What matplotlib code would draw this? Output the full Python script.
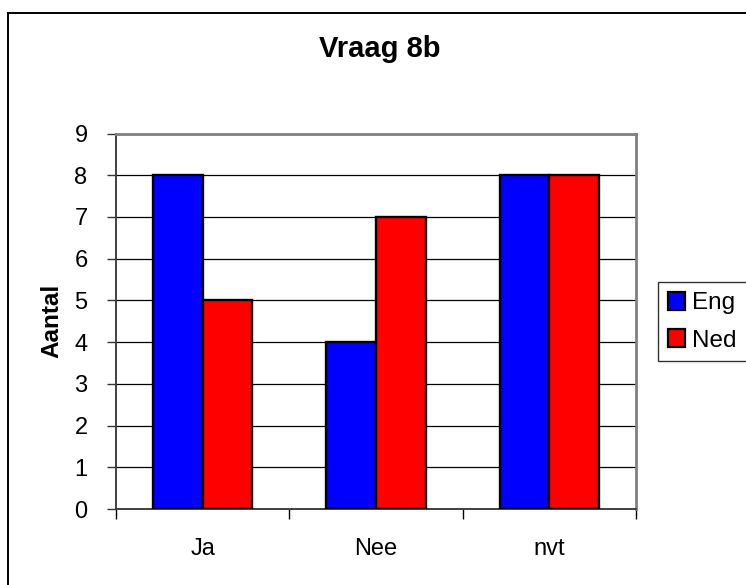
import matplotlib
matplotlib.use("Agg")
import matplotlib.pyplot as plt
from matplotlib.patches import Rectangle
import numpy as np

categories = ["Ja", "Nee", "nvt"]
eng_values = [8, 4, 8]
ned_values = [5, 7, 8]
series_names = ["Eng", "Ned"]
y_ticks = [0, 1, 2, 3, 4, 5, 6, 7, 8, 9]

plt.rcParams["font.family"] = ["Liberation Sans", "DejaVu Sans"]

W, H = 746, 585
fig = plt.figure(figsize=(W / 100, H / 100), dpi=100)

# outer chart frame (right and bottom edges run past the canvas)
fig.patches.append(Rectangle((8 / W, -0.05), 1.1, 1 - 13 / H + 0.05,
                             transform=fig.transFigure, fill=False,
                             edgecolor="black", linewidth=1.4))

ax = fig.add_axes([116 / W, 1 - 509 / H, (636 - 116) / W, (509 - 133.5) / H])

x = np.arange(len(categories))
w = 1 / 3.5
ax.bar(x - w / 2, eng_values, width=w, color="#0000FF", edgecolor="black",
       linewidth=1.7, zorder=3, label=series_names[0])
ax.bar(x + w / 2, ned_values, width=w, color="#FF0000", edgecolor="black",
       linewidth=1.7, zorder=3, label=series_names[1])

ax.set_xlim(-0.5, len(categories) - 0.5)
ax.set_ylim(0, 9)
ax.set_yticks(y_ticks)
ax.yaxis.grid(True, color="black", linewidth=0.9, zorder=0)
ax.set_axisbelow(True)

# category boundary ticks on the x axis, labels centred between them
ax.set_xticks(np.arange(len(categories) + 1) - 0.5)
ax.set_xticklabels([])
ax.set_xticks(x, minor=True)
ax.set_xticklabels(categories, minor=True)
ax.tick_params(axis="x", which="major", direction="out", length=7, width=1, color="black")
ax.tick_params(axis="x", which="minor", length=0, pad=21, labelsize=17)
ax.tick_params(axis="y", direction="out", length=6.5, width=1, color="#333333",
               labelsize=17, pad=14)

for side in ["top", "right"]:
    ax.spines[side].set_color("#808080")
    ax.spines[side].set_linewidth(2)
ax.spines["left"].set_color("#404040")
ax.spines["left"].set_linewidth(1.4)
ax.spines["bottom"].set_color("#404040")
ax.spines["bottom"].set_linewidth(1.4)

fig.text(52 / W, 1 - 321 / H, "Aantal", rotation=90, ha="center", va="center",
         fontsize=17.5, fontweight="bold")

fig.text(380 / W, 1 - 57 / H, "Vraag 8b", ha="center", va="baseline",
         fontsize=21, fontweight="bold")

leg = fig.legend(loc="upper left",
                 bbox_to_anchor=(658 / W, 1 - 282 / H - 0.01, 100 / W, 0.01),
                 mode="expand", fontsize=17.5, frameon=True, fancybox=False,
                 edgecolor="black", handlelength=0.7, handleheight=0.75,
                 handletextpad=0.3, borderpad=0.4, labelspacing=0.62,
                 borderaxespad=0)
leg.get_frame().set_linewidth(1)
for h in leg.legend_handles:
    h.set_linewidth(1.6)

fig.savefig("out.png", dpi=100)
